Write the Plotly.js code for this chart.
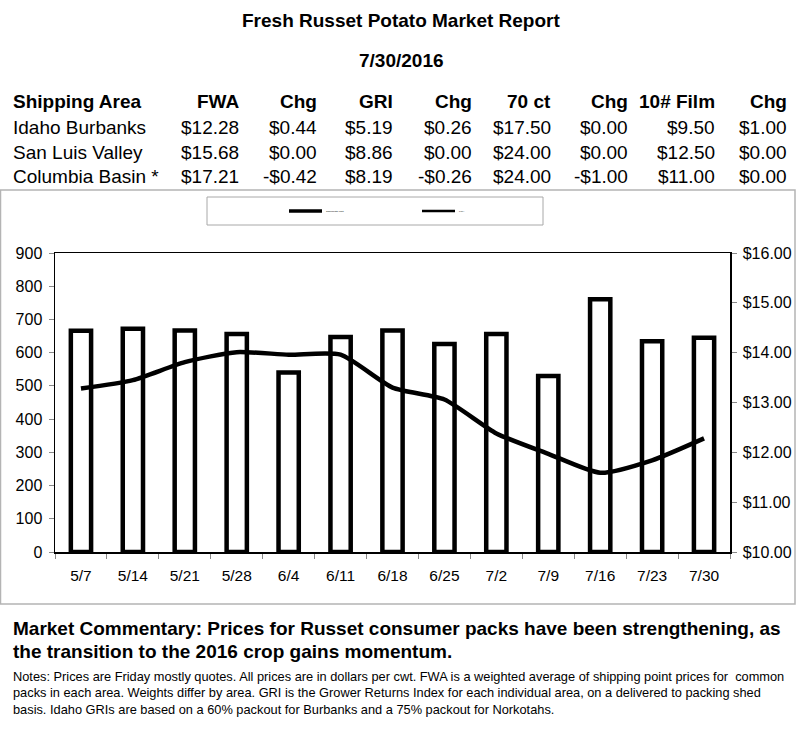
<!DOCTYPE html>
<html>
<head>
<meta charset="utf-8">
<script src="https://cdn.plot.ly/plotly-3.0.1.min.js"></script>
<style>
  html, body { margin: 0; padding: 0; background: #fff; }
  #chart { width: 800px; height: 735px; }
</style>
</head>
<body>
<div id="chart"></div>
<script>
// ---------- DATA ----------
const weeks = ["5/7","5/14","5/21","5/28","6/4","6/11","6/18","6/25","7/2","7/9","7/16","7/23","7/30"];
const shipments = [666, 672, 667, 656, 540, 647, 667, 626, 656, 530, 761, 634, 645];
const fwaPrice = [13.28, 13.45, 13.81, 14.01, 13.96, 13.96, 13.30, 13.06, 12.38, 11.97, 11.59, 11.84, 12.28];

const reportTitle = "Fresh Russet Potato Market Report";
const reportDate = "7/30/2016";
const tableHeader = ["Shipping Area","FWA","Chg","GRI","Chg","70 ct","Chg","10# Film","Chg"];
const rowIdaho = ["Idaho Burbanks","$12.28","$0.44","$5.19","$0.26","$17.50","$0.00","$9.50","$1.00"];
const rowSanLuis = ["San Luis Valley","$15.68","$0.00","$8.86","$0.00","$24.00","$0.00","$12.50","$0.00"];
const rowColumbia = ["Columbia Basin *","$17.21","-$0.42","$8.19","-$0.26","$24.00","-$1.00","$11.00","$0.00"];
const commentaryLines = [
  "Market Commentary: Prices for Russet consumer packs have been strengthening, as",
  "the transition to the 2016 crop gains momentum."
];
const noteLines = [
  "Notes: Prices are Friday mostly quotes. All prices are in dollars per cwt. FWA is a weighted average of shipping point prices for  common",
  "packs in each area. Weights differ by area. GRI is the Grower Returns Index for each individual area, on a delivered to packing shed",
  "basis. Idaho GRIs are based on a 60% packout for Burbanks and a 75% packout for Norkotahs."
];
const legendNames = ["Shipments (cwt)", "FWA"];

// ---------- LAYOUT HELPERS ----------
const M = {l: 55, r: 70, t: 253, b: 183};
const PW = 800 - M.l - M.r, PH = 735 - M.t - M.b;
const px = x => (x - M.l) / PW;
const py = y => (735 - M.b - y) / PH;
const FONT = "Liberation Sans, Arial, sans-serif";

const annotations = [];
function txt(text, x, y, anchor, size, bold) {
  annotations.push({
    text: bold ? "<b>" + text + "</b>" : text,
    xref: "paper", yref: "paper", x: px(x), y: py(y),
    xanchor: anchor, yanchor: "middle", showarrow: false,
    font: {family: FONT, size: size, color: "#000"}
  });
}

txt(reportTitle, 401, 20, "center", 19, true);
txt(reportDate, 401, 60, "center", 19, true);

const colRight = [null, 241, 319, 395, 474, 553, 630, 717, 789];
const rows = [tableHeader, rowIdaho, rowSanLuis, rowColumbia];
const rowY = [102, 127, 152, 176];
rows.forEach((r, i) => {
  r.forEach((c, j) => {
    if (j === 0) txt(c, 11, rowY[i], "left", 19, i === 0);
    else txt(c, colRight[j], rowY[i], "right", 19, i === 0);
  });
});

commentaryLines.forEach((t, i) => txt(t, 11, 628 + i * 23, "left", 19, true));
noteLines.forEach((t, i) => txt(t, 11, 676 + i * 16.5, "left", 12.8, false));

// legend (tiny, as in reference)
txt(legendNames[0], 324, 211, "left", 2.5, false);
txt(legendNames[1], 457, 211, "left", 2.5, false);

const shapes = [
  {type: "rect", xref: "paper", yref: "paper", x0: px(0.5), x1: px(795), y0: py(190), y1: py(604),
   line: {color: "#b4b4b4", width: 1.5}, fillcolor: "rgba(0,0,0,0)", layer: "below"},
  {type: "rect", xref: "paper", yref: "paper", x0: px(207), x1: px(543), y0: py(197), y1: py(225),
   line: {color: "#a8a8a8", width: 1}, fillcolor: "rgba(0,0,0,0)"},
  {type: "line", xref: "paper", yref: "paper", x0: px(289), x1: px(322), y0: py(211), y1: py(211),
   line: {color: "#000", width: 3.5}},
  {type: "line", xref: "paper", yref: "paper", x0: px(422), x1: px(455), y0: py(211), y1: py(211),
   line: {color: "#000", width: 2.5}}
];

// ---------- TRACES ----------
const traces = [
  {
    type: "bar", name: legendNames[0], x: weeks, y: shipments, yaxis: "y",
    marker: {color: "#fff", line: {color: "#000", width: 4.5}},
    hoverinfo: "x+y", showlegend: false
  },
  {
    type: "scatter", mode: "lines", name: legendNames[1], x: weeks, y: fwaPrice, yaxis: "y2",
    line: {color: "#000", width: 4.5, shape: "spline", smoothing: 0.6},
    showlegend: false
  }
];

const layout = {
  width: 800, height: 735,
  margin: M,
  paper_bgcolor: "#fff", plot_bgcolor: "#fff",
  showlegend: false,
  bargap: 0.61,
  font: {family: FONT, color: "#000"},
  xaxis: {
    type: "category", tickson: "boundaries", ticks: "outside", ticklen: 5, tickcolor: "#888",
    showline: true, linecolor: "#000", linewidth: 1.5, mirror: true,
    showgrid: false, zeroline: false, tickfont: {size: 15.5, family: FONT},
    ticklabelstandoff: 9,
    range: [-0.5, weeks.length - 0.5]
  },
  yaxis: {
    range: [0, 900], dtick: 100, ticks: "outside", ticklen: 5, tickcolor: "#888",
    showline: true, linecolor: "#000", linewidth: 1.5, showgrid: false, zeroline: false,
    tickfont: {size: 16, family: FONT}, ticklabelstandoff: 3
  },
  yaxis2: {
    overlaying: "y", side: "right", range: [10, 16], dtick: 1, tickformat: "$.2f",
    ticks: "outside", ticklen: 5, tickcolor: "#888",
    showline: true, linecolor: "#000", linewidth: 1.5, showgrid: false, zeroline: false,
    tickfont: {size: 16, family: FONT}, ticklabelstandoff: 3
  },
  annotations: annotations,
  shapes: shapes
};

Plotly.newPlot("chart", traces, layout, {displayModeBar: false, staticPlot: true});
</script>
</body>
</html>
